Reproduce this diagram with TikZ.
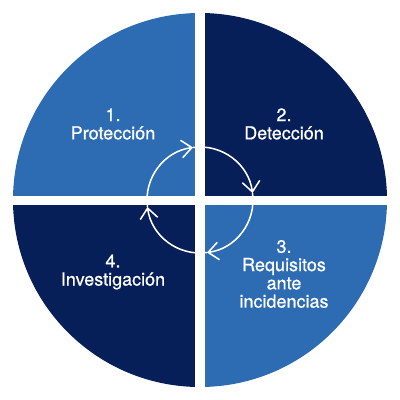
\documentclass[tikz,border=0pt]{standalone}
\usepackage{fontspec}
\setmainfont{Liberation Sans}
\newfontfamily\phasefont{TeX Gyre Heros}[FakeBold=0.7]
\usetikzlibrary{arrows.meta}
\definecolor{sky}{RGB}{45,108,179}
\definecolor{navy}{RGB}{6,31,88}
\tikzset{
  >={Straight Barb[length=2.6mm,width=4.4mm]},
  phase/.style={text=white,font=\phasefont\fontsize{12.8}{13}\selectfont,align=center},
  loop arc/.style={->,draw=white,line width=1.1pt},
}
\begin{document}
\begin{tikzpicture}[x=0.025cm,y=0.025cm]
  \useasboundingbox (-200,-200) rectangle (200,200);
  % quarters of the disc
  \foreach \a/\c in {90/sky,0/navy,270/sky,180/navy}
    \fill[\c] (0,0) -- (\a:187) arc (\a:\a+90:187) -- cycle;
  \fill[white] (-5,-195) rectangle (5,195);
  \fill[white] (-195,-5) rectangle (195,4);
  % labels
  \node[phase] (prot) at (-87,76) {1.\\Protección};
  \node[phase] (det) at (84,76) {2.\\Detección};
  \node[phase] (req) at (84,-74) {3.\\Requisitos\\ante\\incidencias};
  \node[phase] (inv) at (-87,-72) {4.\\Investigación};
  % cycle in the middle
  \foreach \s in {187.5,97.5,7.5,-82.5}
    \draw[loop arc] (\s:53) arc (\s:\s-90:53);
\end{tikzpicture}
\end{document}
